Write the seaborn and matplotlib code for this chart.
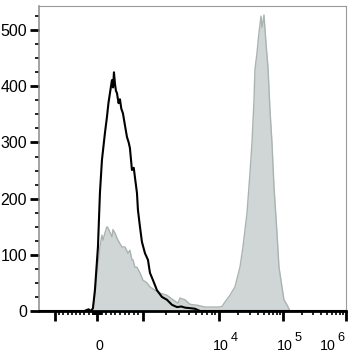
import numpy as np
import pandas as pd
import matplotlib
matplotlib.use("Agg")
import matplotlib.pyplot as plt
from matplotlib.transforms import ScaledTranslation
import seaborn as sns

# ---------------- data (fluorescence value, event count) ----------------
black_x = [-1620, -300, -200, -140, -95, -48, 22, 65, 109, 174, 217, 250, 283, 326,
           350, 370, 391, 413, 435, 470, 500, 530, 565, 610, 652, 690, 717, 761,
           800, 826, 870, 891, 935, 978, 1062, 1164, 1236, 1354, 1528, 1778,
           2069, 2407, 2800, 3200, 3570, 4200, 4830, 5620, 1000000]
black_y = [0, 0, 3, 0, 5, 37, 114, 210, 269, 317, 345, 370, 388, 411,
           398, 425, 405, 392, 388, 370, 377, 360, 352, 330, 310, 300, 290, 251,
           255, 238, 210, 180, 150, 123, 103, 91, 68, 55, 37, 25,
           20, 11, 7, 8, 6, 5, 4, 0, 0]

gray_x = [-1620, -143, -95, -48, 0, 65, 109, 130, 174, 217, 239, 283, 326, 348,
          391, 435, 457, 500, 543, 609, 674, 717, 761, 783, 826, 870, 935, 1000,
          1129, 1236, 1438, 1674, 2069, 2480, 2888, 3070, 3570, 4150, 5290, 6550,
          8090, 10000, 11140, 12410, 14850, 17780, 21280, 23710, 27380, 30500,
          32780, 35240, 36520, 39240, 42170, 45320, 46980, 48700, 50480, 54250,
          58300, 62650, 67330, 72360, 80600, 86600, 96400, 103700, 115700,
          129200, 1000000]
gray_y = [0, 0, 5, 30, 68, 114, 135, 126, 139, 150, 148, 140, 132, 145,
          139, 130, 126, 120, 114, 114, 103, 108, 91, 91, 78, 78, 68, 55,
          50, 43, 37, 32, 28, 20, 14, 23, 20, 12, 10, 7,
          7, 7, 8, 16, 28, 43, 78, 114, 174, 245,
          299, 375, 430, 459, 495, 525, 505, 515, 527, 477,
          434, 358, 299, 221, 139, 78, 43, 20, 11,
          0, 0]

y_ticks = [0, 100, 200, 300, 400, 500]
x_major = [-1000, 0, 1000, 10000, 100000, 1000000]
x_labels = ["", "0", "", "10", "10", "10"]
x_exponents = ["", "", "", "4", "5", "6"]

# ---------------- logicle-like display scale ----------------
U_ANCH = np.array([-2, -1, 0, 1, 2, 3, 4], float)
SEG_W = np.array([76, 42, 46, 76, 64, 63], float)
POS = np.concatenate([[0], np.cumsum(SEG_W)])


def to_u(x):
    x = np.asarray(x, float)
    a = np.abs(x) / 1000.0
    u = np.where(a <= 1, a, 1 + np.log10(np.maximum(a, 1)))
    return np.sign(x) * u


def from_u(u):
    u = np.asarray(u, float)
    a = np.abs(u)
    x = np.where(a <= 1, a, 10 ** (np.maximum(a, 1) - 1)) * 1000.0
    return np.sign(u) * x


def fwd(x):
    return np.interp(to_u(x), U_ANCH, POS)


def inv(p):
    return from_u(np.interp(p, POS, U_ANCH))


# ---------------- plotting ----------------
sns.set_style("ticks")
plt.rcParams["font.family"] = ["Liberation Sans", "DejaVu Sans"]

fig = plt.figure(figsize=(3.55, 3.59), dpi=100)
ax = fig.add_axes([39 / 355, 1 - 311 / 359, (346 - 39) / 355, (311 - 6) / 359])
ax.set_xscale("function", functions=(fwd, inv))

gdf = pd.DataFrame({"x": gray_x, "y": gray_y})
bdf = pd.DataFrame({"x": black_x, "y": black_y})

ax.fill_between(gdf["x"], 0, gdf["y"], color="#cfd6d5", lw=0, zorder=1)
sns.lineplot(data=gdf, x="x", y="y", color="#a9b3b2", lw=1.0, ax=ax,
             estimator=None, sort=False, zorder=2)
sns.lineplot(data=bdf, x="x", y="y", color="black", lw=1.5, ax=ax,
             estimator=None, sort=False, zorder=3)

ax.set_xlim(-1620, 1e6)
ax.set_ylim(0, 543)
ax.set_xlabel("")
ax.set_ylabel("")

# y ticks
ax.set_yticks(y_ticks)
ax.set_yticks(np.arange(0, 543, 25), minor=True)
ax.tick_params(axis="y", which="major", length=6.5, width=2, color="black",
               labelsize=11.5, pad=2, labelcolor="black")
ax.tick_params(axis="y", which="minor", length=3, width=1.2, color="black")

# x ticks
minor = ([-v for v in range(100, 1000, 100)] + [-v for v in range(10, 100, 10)]
         + list(range(10, 100, 10)) + list(range(100, 1000, 100))
         + list(range(2000, 10000, 1000)) + list(range(20000, 100000, 10000))
         + list(range(200000, 1000000, 100000)))
ax.set_xticks(x_major, labels=x_labels)
ax.set_xticks(minor, minor=True)
ax.tick_params(axis="x", which="major", length=7, width=2, color="black",
               labelsize=10.3, pad=21.2, labelcolor="black")
ax.tick_params(axis="x", which="minor", length=3, width=1.2, color="black")

offsets_px = [0, 2, 0, 2, 2, -18]
labs = ax.get_xticklabels()
for lab, dx in zip(labs, offsets_px):
    lab.set_va("baseline")
    lab.set_transform(lab.get_transform()
                      + ScaledTranslation(dx / 100, 0, fig.dpi_scale_trans))

# spines
ax.spines["bottom"].set_color("black")
ax.spines["bottom"].set_linewidth(2)
ax.spines["left"].set_color("#8a8a8a")
ax.spines["left"].set_linewidth(1.1)
for s in ("top", "right"):
    ax.spines[s].set_visible(True)
    ax.spines[s].set_color("#9a9a9a")
    ax.spines[s].set_linewidth(0.8)

# exponents of the decade labels, placed relative to the rendered base "10"
fig.canvas.draw()
for lab, ex in zip(ax.get_xticklabels(), x_exponents):
    if not ex:
        continue
    bb = lab.get_window_extent()
    xa, ya = lab.get_transform().transform(lab.get_position())
    ax.annotate(ex, xy=(bb.x1 + 1.5, ya + 9.5), xycoords="figure pixels",
                ha="left", va="baseline", fontsize=9.2, color="black",
                annotation_clip=False)

fig.savefig("out.png", dpi=100)
